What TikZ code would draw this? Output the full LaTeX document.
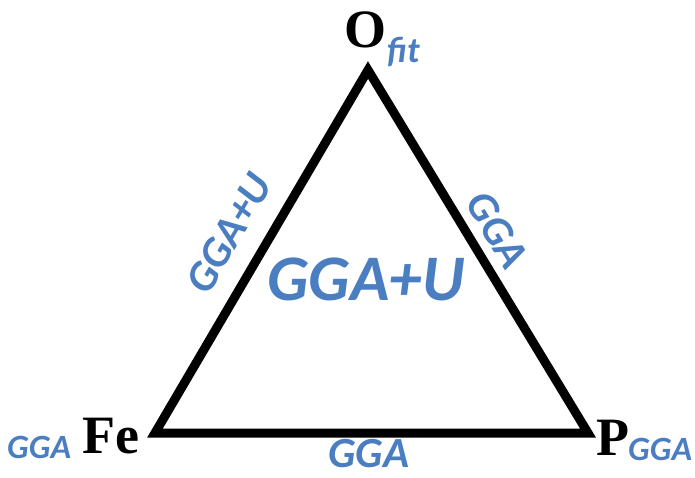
\documentclass[tikz,border=0pt]{standalone}
\usepackage{fontspec}
\newfontfamily\tnrfont{Liberation Serif}
\newfontfamily\carlitofont{Carlito}
\definecolor{lblue}{RGB}{74,126,193}
\tikzset{
  vlabel/.style={font=\tnrfont\bfseries\fontsize{54}{54}\selectfont, text=black, inner sep=0pt},
  blab/.style={font=\carlitofont\bfseries\itshape\fontsize{34}{34}\selectfont, text=lblue, inner sep=0pt},
  elab/.style={font=\carlitofont\bfseries\itshape\fontsize{43}{43}\selectfont, text=lblue, inner sep=0pt},
  biglab/.style={font=\carlitofont\bfseries\itshape\fontsize{65}{65}\selectfont, text=lblue, inner sep=0pt},
  edge/.style={line width=9pt, line join=miter, draw=black}
}
\begin{document}
\begin{tikzpicture}[x=1pt,y=-1pt]
\useasboundingbox (0,0) rectangle (695,477);
\coordinate (top) at (368,70);
\coordinate (left) at (155,433);
\coordinate (right) at (588,433);
\draw[edge] (left) -- (top) -- (right) -- cycle;
% vertex labels
\node[vlabel, anchor=base] (O) at (365,47) {O};
\node[blab, font=\carlitofont\bfseries\itshape\fontsize{36}{36}\selectfont, anchor=base west] (fit) at (387,62) {fit};
\node[vlabel, anchor=base west] (Fe) at (82,453) {Fe};
\node[blab, anchor=base west] (ggaFe) at (7,458) {GGA};
\node[vlabel, anchor=base west] (P) at (596,455) {P};
\node[blab, anchor=base west] (ggaP) at (628,460) {GGA};
% edge labels
\node[elab, rotate=59.6] (lefte) at (229,233) {GGA+U};
\node[elab, rotate=-58.8] (righte) at (497,230) {GGA};
\node[elab, anchor=base] (bottome) at (369,467) {GGA};
\node[biglab] (center) at (366,279) {GGA+U};
\end{tikzpicture}
\end{document}
